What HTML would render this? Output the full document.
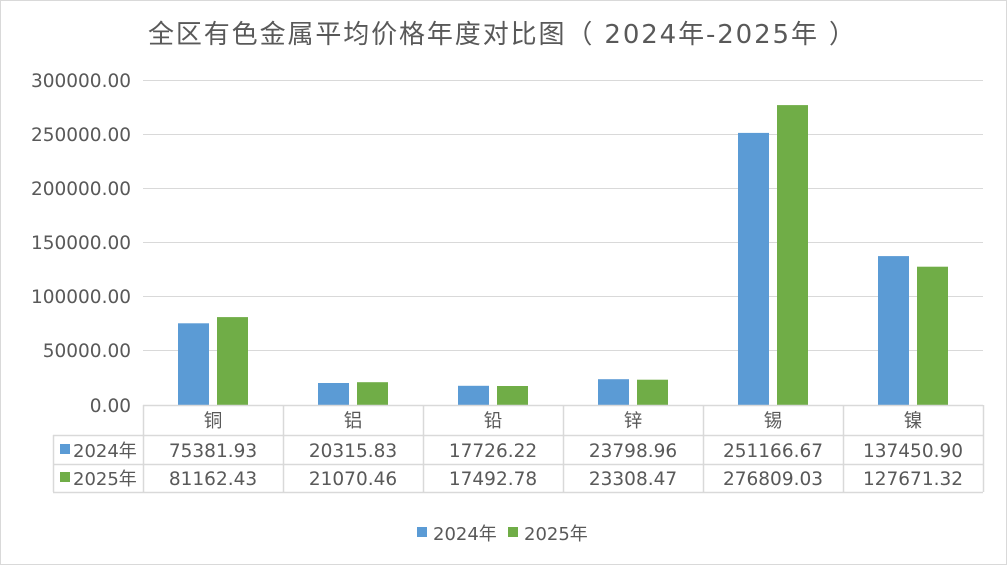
<!DOCTYPE html>
<html><head><meta charset="utf-8"><style>
html,body{margin:0;padding:0;background:#fff}
svg text{font-family:"DejaVu Sans","Noto Sans CJK SC",sans-serif;fill:#595959}
</style></head><body>
<svg width="1007" height="565" xmlns="http://www.w3.org/2000/svg">
<rect x="0.5" y="0.5" width="1006" height="564" fill="#fff" stroke="#d9d9d9"/>
<text x="148" y="43" font-size="26" textLength="707" lengthAdjust="spacing">全区有色金属平均价格年度对比图（ 2024年-2025年 ）</text>
<g stroke="#d9d9d9" stroke-width="1">
<line x1="143" y1="80.5" x2="983" y2="80.5"/>
<line x1="143" y1="134.5" x2="983" y2="134.5"/>
<line x1="143" y1="188.5" x2="983" y2="188.5"/>
<line x1="143" y1="242.5" x2="983" y2="242.5"/>
<line x1="143" y1="296.5" x2="983" y2="296.5"/>
<line x1="143" y1="350.5" x2="983" y2="350.5"/>
</g>
<g font-size="18.5" text-anchor="end">
<text x="131" y="87">300000.00</text>
<text x="131" y="141">250000.00</text>
<text x="131" y="195">200000.00</text>
<text x="131" y="249">150000.00</text>
<text x="131" y="303">100000.00</text>
<text x="131" y="357">50000.00</text>
<text x="131" y="412">0.00</text>
</g>
<g fill="#5b9bd5">
<rect x="178" y="323.3" width="31" height="81.7"/>
<rect x="318" y="383" width="31" height="22"/>
<rect x="458" y="385.8" width="31" height="19.2"/>
<rect x="598" y="379.2" width="31" height="25.8"/>
<rect x="738" y="132.9" width="31" height="272.1"/>
<rect x="878" y="256.1" width="31" height="148.9"/>
</g>
<g fill="#70ad47">
<rect x="217" y="317.1" width="31" height="87.9"/>
<rect x="357" y="382.2" width="31" height="22.8"/>
<rect x="497" y="386" width="31" height="19"/>
<rect x="637" y="379.7" width="31" height="25.3"/>
<rect x="777" y="105.1" width="31" height="299.9"/>
<rect x="917" y="266.7" width="31" height="138.3"/>
</g>
<g stroke="#d9d9d9" stroke-width="1.5" fill="none">
<line x1="143" y1="405.5" x2="983" y2="405.5"/>
<line x1="53" y1="435.5" x2="983" y2="435.5"/>
<line x1="53" y1="464.5" x2="983" y2="464.5"/>
<line x1="53" y1="492.5" x2="983" y2="492.5"/>
<line x1="53.5" y1="435" x2="53.5" y2="492"/>
<line x1="143.5" y1="405" x2="143.5" y2="492"/>
<line x1="283.5" y1="405" x2="283.5" y2="492"/>
<line x1="423.5" y1="405" x2="423.5" y2="492"/>
<line x1="563.5" y1="405" x2="563.5" y2="492"/>
<line x1="703.5" y1="405" x2="703.5" y2="492"/>
<line x1="843.5" y1="405" x2="843.5" y2="492"/>
<line x1="983.5" y1="405" x2="983.5" y2="492"/>
</g>
<g font-size="18.5" text-anchor="middle">
<text x="213" y="427">铜</text><text x="353" y="427">铝</text><text x="493" y="427">铅</text><text x="633" y="427">锌</text><text x="773" y="427">锡</text><text x="913" y="427">镍</text>
<text x="213" y="457">75381.93</text><text x="353" y="457">20315.83</text><text x="493" y="457">17726.22</text><text x="633" y="457">23798.96</text><text x="773" y="457">251166.67</text><text x="913" y="457">137450.90</text>
<text x="213" y="485">81162.43</text><text x="353" y="485">21070.46</text><text x="493" y="485">17492.78</text><text x="633" y="485">23308.47</text><text x="773" y="485">276809.03</text><text x="913" y="485">127671.32</text>
</g>
<rect x="60" y="444" width="10" height="10" fill="#5b9bd5"/>
<text x="73" y="457" font-size="18">2024年</text>
<rect x="60" y="472" width="10" height="10" fill="#70ad47"/>
<text x="73" y="485" font-size="18">2025年</text>
<rect x="417" y="527" width="10" height="10" fill="#5b9bd5"/>
<text x="433" y="540" font-size="18">2024年</text>
<rect x="508" y="527" width="10" height="10" fill="#70ad47"/>
<text x="524" y="540" font-size="18">2025年</text>
</svg>
</body></html>
